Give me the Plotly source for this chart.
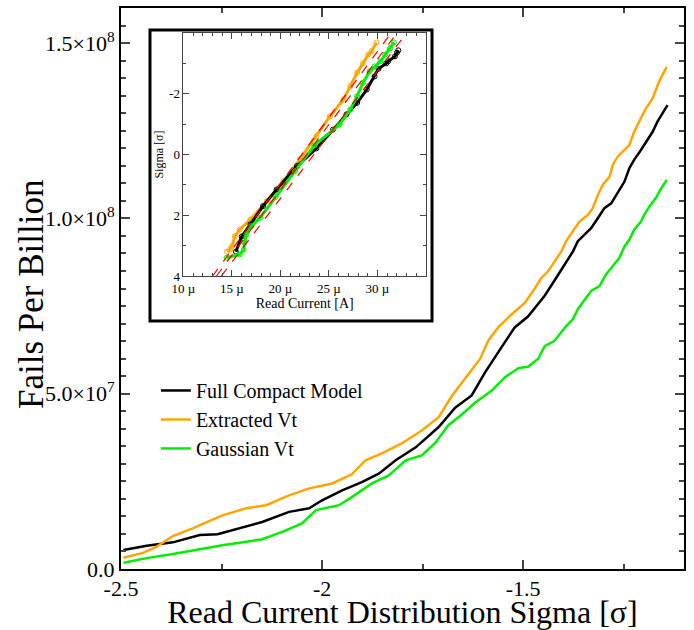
import plotly.graph_objects as go

SCALE = 1e7  # main y values are stored in units of 1e7 fails per billion

# ---- main chart data: sigma vs fails per billion (x1e7) ----
black_sigma = [-2.494, -2.436, -2.371, -2.304, -2.260, -2.205, -2.149, -2.082, -2.032, -2.000,
               -1.950, -1.901, -1.859, -1.817, -1.767, -1.710, -1.669, -1.628, -1.595, -1.554,
               -1.521, -1.488, -1.446, -1.418, -1.397, -1.376, -1.364, -1.352, -1.331, -1.314,
               -1.298, -1.281, -1.265, -1.248, -1.236, -1.224, -1.207, -1.191, -1.178, -1.166,
               -1.153, -1.141]
black_fpb = [0.54, 0.66, 0.76, 0.97, 0.99, 1.16, 1.34, 1.63, 1.73, 1.96,
             2.24, 2.48, 2.72, 3.10, 3.47, 4.05, 4.60, 4.95, 5.60, 6.32,
             6.89, 7.20, 7.80, 8.30, 8.68, 9.06, 9.35, 9.49, 9.72, 10.01,
             10.29, 10.43, 10.72, 11.05, 11.43, 11.67, 11.95, 12.24, 12.47, 12.76,
             12.99, 13.23]

orange_sigma = [-2.494, -2.445, -2.412, -2.371, -2.322, -2.248, -2.189, -2.139, -2.082, -2.032,
                -1.975, -1.926, -1.892, -1.851, -1.802, -1.752, -1.710, -1.677, -1.636, -1.607,
                -1.587, -1.562, -1.529, -1.496, -1.471, -1.455, -1.438, -1.422, -1.405, -1.393,
                -1.376, -1.360, -1.339, -1.327, -1.314, -1.302, -1.285, -1.277, -1.265, -1.248,
                -1.236, -1.224, -1.211, -1.195, -1.178, -1.162, -1.143]
orange_fpb = [0.32, 0.46, 0.63, 0.94, 1.16, 1.53, 1.73, 1.82, 2.10, 2.30,
              2.44, 2.70, 3.10, 3.30, 3.58, 3.95, 4.33, 4.94, 5.56, 5.99,
              6.51, 6.89, 7.26, 7.59, 8.00, 8.30, 8.49, 8.78, 9.06, 9.35,
              9.63, 9.91, 10.10, 10.29, 10.67, 10.96, 11.19, 11.53, 11.76, 11.95,
              12.09, 12.47, 12.76, 13.13, 13.42, 13.90, 14.32]

green_sigma = [-2.494, -2.436, -2.371, -2.304, -2.248, -2.205, -2.149, -2.099, -2.050, -2.015,
               -1.958, -1.926, -1.876, -1.834, -1.792, -1.752, -1.718, -1.686, -1.653, -1.619,
               -1.578, -1.545, -1.512, -1.488, -1.463, -1.446, -1.422, -1.393, -1.376, -1.364,
               -1.347, -1.331, -1.310, -1.294, -1.277, -1.261, -1.248, -1.236, -1.224, -1.207,
               -1.199, -1.186, -1.170, -1.159, -1.143]
green_fpb = [0.18, 0.31, 0.43, 0.57, 0.68, 0.75, 0.85, 1.06, 1.30, 1.68,
             1.82, 2.05, 2.44, 2.67, 3.10, 3.24, 3.60, 4.10, 4.40, 4.75,
             5.09, 5.47, 5.73, 5.77, 5.99, 6.36, 6.51, 6.93, 7.13, 7.41,
             7.69, 7.93, 8.07, 8.40, 8.64, 8.87, 9.20, 9.39, 9.68, 9.91,
             10.10, 10.34, 10.58, 10.81, 11.10]

series_names = ["Full Compact Model", "Extracted Vt", "Gaussian Vt"]
series_colors = ["#000000", "#FFA500", "#00EE00"]

main_xticks = [-2.5, -2.0, -1.5]
main_xticktext = ["-2.5", "-2", "-1.5"]
main_xminor = [-2.25, -1.75, -1.25]
main_yticks = [0, 5e7, 1e8, 1.5e8]
main_yticktext = ["0.0", "5.0×10<sup>7</sup>", "1.0×10<sup>8</sup>", "1.5×10<sup>8</sup>"]

# ---- inset data: read current (uA) vs sigma ----
inset_orange_I = [14.5, 14.8, 15.0, 15.3, 15.8, 16.9, 18.6, 20.3, 22.0, 23.7, 25.1, 26.5, 27.2,
                  27.9, 28.5, 29.05, 29.4, 29.9]
inset_orange_S = [3.2, 3.13, 3.02, 2.69, 2.47, 2.14, 1.53, 0.88, 0.16, -0.6, -1.26, -1.81, -2.25,
                  -2.69, -3.0, -3.29, -3.4, -3.69]
inset_black_I = [15.4, 16.0, 16.9, 18.2, 19.6, 21.7, 23.7, 25.4, 26.8, 27.9, 28.9, 29.7, 30.1,
                 30.9, 31.1, 31.8, 32.0, 32.15]
inset_black_S = [3.2, 2.7, 2.3, 1.7, 1.15, 0.38, -0.2, -0.82, -1.32, -1.7, -2.14, -2.57, -2.82,
                 -3.0, -3.07, -3.23, -3.35, -3.43]
inset_green_I = [14.45, 15.8, 16.2, 16.3, 16.5, 17.0, 17.9, 19.5, 21.5, 23.5, 26.1, 27.2, 27.9,
                 28.5, 29.2, 29.7, 30.3, 30.8, 31.3, 31.7]
inset_green_S = [3.4, 3.29, 3.13, 2.9, 2.63, 2.36, 2.08, 1.4, 0.55, -0.3, -0.99, -1.48, -1.92,
                 -2.36, -2.74, -2.9, -3.07, -3.29, -3.5, -3.69]
fit_S = [4, -4]
fit_lines_I = [[13.0, 31.4], [13.4, 32.0], [13.9, 33.0]]

inset_xticks = [10, 15, 20, 25, 30]
inset_xticktext = ["10 µ", "15 µ", "20 µ", "25 µ", "30 µ"]
inset_yticks = [-2, 0, 2, 4]
inset_yticktext = ["-2", "0", "2", "4"]

FONT = "Liberation Serif"

fig = go.Figure()

main_x = [black_sigma, orange_sigma, green_sigma]
main_y = [black_fpb, orange_fpb, green_fpb]
for name, col, xs, ys in zip(series_names, series_colors, main_x, main_y):
    fig.add_trace(go.Scatter(x=xs, y=[v * SCALE for v in ys], mode="lines", name=name,
                             line=dict(color=col, width=2.5),
                             xaxis="x", yaxis="y"))

inset_sets = [(inset_orange_I, inset_orange_S, "#FFA500"),
              (inset_black_I, inset_black_S, "#000000"),
              (inset_green_I, inset_green_S, "#00EE00")]
for xs, ys, col in inset_sets:
    fig.add_trace(go.Scatter(x=xs, y=ys, mode="lines+markers", showlegend=False,
                             line=dict(color=col, width=3),
                             marker=dict(symbol="circle-open", size=5, color=col, line=dict(width=1)),
                             xaxis="x2", yaxis="y2"))
for fl in fit_lines_I:
    fig.add_trace(go.Scatter(x=fl, y=fit_S, mode="lines", showlegend=False,
                             line=dict(color="#FF0000", width=1.2, dash="dash"),
                             xaxis="x2", yaxis="y2"))

# inset white box with thick border
fig.add_shape(type="rect", xref="paper", yref="paper", x0=0.0515, x1=0.5524, y0=0.442, y1=0.961,
              line=dict(color="black", width=3), fillcolor="white", layer="below")

# main y-axis title placed as rotated text
fig.add_annotation(text="Fails Per Billion", xref="paper", yref="paper", x=-0.16, y=0.49,
                   xanchor="center", yanchor="middle", textangle=-90, showarrow=False,
                   font=dict(family=FONT, size=35, color="black"))

fig.update_layout(
    width=694, height=630,
    margin=dict(l=121, r=10, t=8, b=61, autoexpand=False),
    paper_bgcolor="white", plot_bgcolor="rgba(0,0,0,0)",
    font=dict(family=FONT, color="black"),
    showlegend=True,
    legend=dict(x=0.062, y=0.353, xanchor="left", yanchor="top", bgcolor="rgba(0,0,0,0)",
                font=dict(family=FONT, size=20), itemwidth=30, tracegroupgap=0),
    xaxis=dict(domain=[0, 1], range=[-2.5, -1.1], tickmode="array", tickvals=main_xticks,
               ticktext=main_xticktext, ticks="inside", ticklen=9, tickwidth=1.5,
               showline=True, linewidth=2, linecolor="black", mirror="allticks",
               showgrid=False, zeroline=False, tickfont=dict(size=22), automargin=False,
               ticklabelstandoff=-1,
               minor=dict(tickmode="array", tickvals=main_xminor, ticks="inside", ticklen=5,
                          tickwidth=1.5, showgrid=False),
               title=dict(text="Read Current Distribution Sigma [σ]", font=dict(size=32), standoff=0)),
    yaxis=dict(domain=[0, 1], range=[0, 1.6e8], tickmode="array", tickvals=main_yticks,
               ticktext=main_yticktext, ticks="inside", ticklen=9, tickwidth=1.5,
               showline=True, linewidth=2, linecolor="black", mirror="allticks",
               showgrid=False, zeroline=False, tickfont=dict(size=22), automargin=False,
               minor=dict(tickmode="linear", tick0=0, dtick=5e6, ticks="inside", ticklen=5,
                          tickwidth=1.5, showgrid=False)),
    xaxis2=dict(domain=[0.111, 0.5417], anchor="y2", range=[10, 35], tickmode="array",
                tickvals=inset_xticks, ticktext=inset_xticktext, ticks="inside", ticklen=6,
                tickwidth=1, showline=True, linewidth=1, linecolor="#444", mirror="allticks",
                showgrid=False, zeroline=False, tickfont=dict(size=13), automargin=False,
                minor=dict(tickmode="linear", tick0=10, dtick=1, ticks="inside", ticklen=3,
                           tickwidth=1, showgrid=False),
                title=dict(text="Read Current [A]", font=dict(size=14), standoff=2)),
    yaxis2=dict(domain=[0.5223, 0.9554], anchor="x2", range=[4, -4], tickmode="array",
                tickvals=inset_yticks, ticktext=inset_yticktext, ticks="inside", ticklen=6,
                tickwidth=1, showline=True, linewidth=1, linecolor="#444", mirror="allticks",
                showgrid=False, zeroline=False, tickfont=dict(size=13), automargin=False,
                minor=dict(tickmode="linear", tick0=0, dtick=1, ticks="inside", ticklen=3,
                           tickwidth=1, showgrid=False),
                title=dict(text="Sigma [σ]", font=dict(size=12), standoff=2)),
)

fig.write_html("out.html", config={"displayModeBar": False},
               post_script="document.body.style.margin='0px';")
